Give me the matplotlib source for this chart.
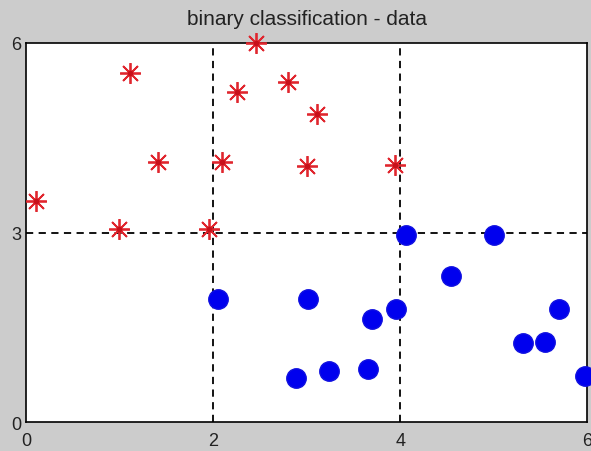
import matplotlib.pyplot as plt
import numpy as np

# class +1 (red asterisks)
pos_x = [0.10, 0.99, 1.11, 1.41, 1.95, 2.09, 2.25, 2.46, 2.80, 3.00, 3.11, 3.95]
pos_y = [3.50, 3.06, 5.53, 4.12, 3.06, 4.12, 5.23, 6.00, 5.39, 4.06, 4.88, 4.07]

# class -1 (blue circles)
neg_x = [2.05, 3.01, 2.88, 3.24, 3.66, 3.70, 3.96, 4.06, 4.54, 5.00, 5.32, 5.55, 5.70, 5.98]
neg_y = [1.95, 1.95, 0.70, 0.81, 0.84, 1.64, 1.80, 2.96, 2.32, 2.96, 1.26, 1.28, 1.80, 0.74]

xticks = [0, 2, 4, 6]
yticks = [0, 3, 6]

plt.rcParams['font.family'] = ['Liberation Sans', 'DejaVu Sans']

fig = plt.figure(figsize=(5.91, 4.52), dpi=100, facecolor='#cccccc')
ax = fig.add_axes([0.0448, 0.0631, 0.9484, 0.8396])
ax.set_facecolor('white')

# dashed guide lines
for gx in [2, 4]:
    ax.axvline(gx, color='black', linestyle=(0, (4, 3)), linewidth=1.3, zorder=1)
ax.axhline(3, color='black', linestyle=(0, (4, 3)), linewidth=1.3, zorder=1)

ax.plot(pos_x, pos_y, linestyle='none', marker=(8, 2, 0), markersize=15,
        markeredgecolor='#e0262e', markeredgewidth=1.3, clip_on=False, zorder=3)
ax.plot(pos_x, pos_y, linestyle='none', marker='o', markersize=3,
        color='#c8101a', clip_on=False, zorder=3)
ax.plot(neg_x, neg_y, linestyle='none', marker='o', markersize=14,
        markerfacecolor='#0000ee', markeredgecolor='#1010e0', markeredgewidth=1,
        clip_on=False, zorder=3)

ax.set_xlim(0, 6)
ax.set_ylim(0, 6)
ax.set_xticks(xticks)
ax.set_yticks(yticks)
ax.tick_params(length=0, labelsize=13, colors='#222222')
ax.tick_params(axis='x', pad=7)
ax.tick_params(axis='y', pad=4)
for s in ax.spines.values():
    s.set_linewidth(1.2)
ax.set_title("binary classification - data", fontsize=15, pad=13.5, color='#222222')

plt.savefig("out.png", dpi=100, facecolor=fig.get_facecolor())
